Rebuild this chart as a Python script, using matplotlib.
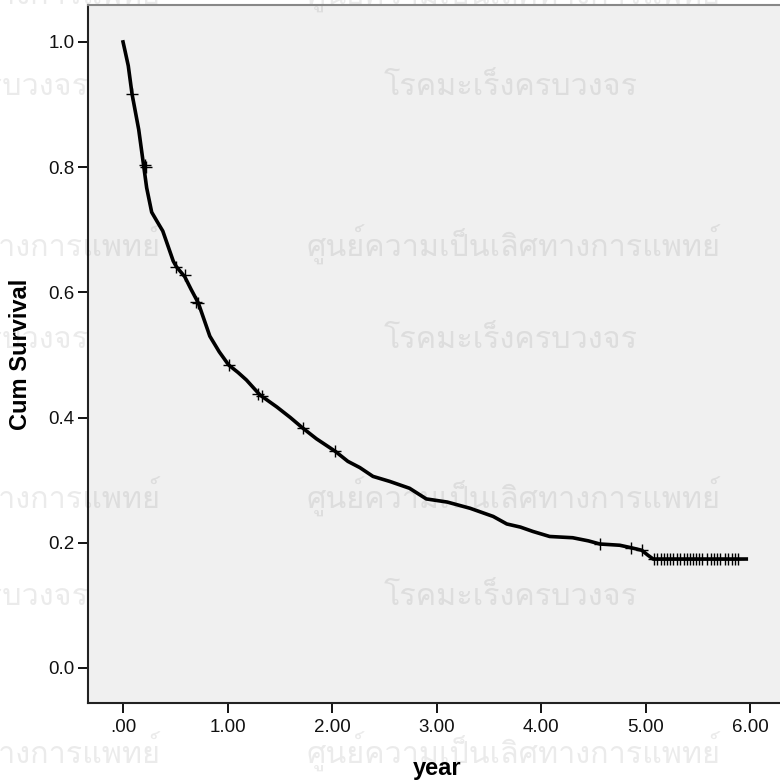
import matplotlib
matplotlib.use("Agg")
import matplotlib.pyplot as plt
from matplotlib import font_manager
from matplotlib.ft2font import FT2Font

# Kaplan-Meier curve
years = [0.00, 0.02, 0.05, 0.086, 0.15, 0.226, 0.274, 0.33, 0.38, 0.48, 0.51,
         0.59, 0.65, 0.72, 0.83, 0.92, 1.01, 1.10, 1.18, 1.31, 1.47, 1.60,
         1.72, 1.85, 2.03, 2.15, 2.265, 2.39, 2.55, 2.74, 2.90, 3.10, 3.32,
         3.54, 3.67, 3.80, 3.92, 4.08, 4.30, 4.45, 4.56, 4.75, 4.86, 4.96,
         5.02, 5.07, 5.96]
cum_survival = [1.000, 0.985, 0.962, 0.917, 0.860, 0.767, 0.728, 0.712, 0.698,
                0.650, 0.641, 0.625, 0.605, 0.583, 0.530, 0.505, 0.484, 0.472,
                0.460, 0.436, 0.417, 0.400, 0.383, 0.366, 0.346, 0.330, 0.320,
                0.306, 0.298, 0.287, 0.270, 0.265, 0.255, 0.242, 0.230, 0.225,
                0.218, 0.210, 0.208, 0.203, 0.198, 0.196, 0.192, 0.188, 0.180,
                0.174, 0.174]

# censored cases
censor_years = [0.086, 0.21, 0.22, 0.51, 0.59, 0.70, 0.72, 1.01, 1.29, 1.33,
                1.72, 2.03, 4.56, 4.86, 4.96,
                5.08, 5.11, 5.14, 5.17, 5.20, 5.23, 5.26, 5.30, 5.33, 5.36,
                5.39, 5.42, 5.45, 5.48, 5.51, 5.54, 5.58, 5.62, 5.65, 5.68,
                5.71, 5.76, 5.79, 5.82, 5.85, 5.88]
censor_surv = [0.917, 0.803, 0.800, 0.641, 0.628, 0.585, 0.583, 0.484, 0.438,
               0.435, 0.383, 0.346, 0.198, 0.192, 0.188] + [0.174] * 26

x_ticks = [0, 1, 2, 3, 4, 5, 6]
x_labels = [".00", "1.00", "2.00", "3.00", "4.00", "5.00", "6.00"]
y_ticks = [0.0, 0.2, 0.4, 0.6, 0.8, 1.0]
y_labels = ["0.0", "0.2", "0.4", "0.6", "0.8", "1.0"]

watermark1 = "ศูนย์ความเป็นเลิศทางการแพทย์"
watermark2 = "โรคมะเร็งครบวงจร"

plt.rcParams['font.family'] = ['Liberation Sans', 'DejaVu Sans']

fig = plt.figure(figsize=(7.8, 7.81), dpi=100)
W, H = 780.0, 781.0
ax = fig.add_axes([88 / W, (H - 703) / H, (786 - 88) / W, (703 - 5) / H])
ax.set_facecolor("#f0f0f0")

ax.plot(years, cum_survival, color="black", lw=2.6, solid_joinstyle="round",
        zorder=3)
ax.plot(censor_years, censor_surv, ls="none", marker="+", ms=9, mew=1.0,
        color="black", zorder=4)

ax.set_xlim(-0.335, 6.34)
ax.set_ylim(-0.056, 1.059)
ax.set_xticks(x_ticks)
ax.set_xticklabels(x_labels)
ax.set_yticks(y_ticks)
ax.set_yticklabels(y_labels)
ax.tick_params(direction="out", length=7.5, width=1.4, labelsize=13.5,
               colors="#111111", pad=2)
ax.tick_params(axis="x", pad=4)

for side in ["left", "bottom"]:
    ax.spines[side].set_color("#222222")
    ax.spines[side].set_linewidth(1.5)
ax.spines["top"].set_color("#888888")
ax.spines["top"].set_linewidth(1.5)
ax.spines["right"].set_visible(False)

ax.set_ylabel("Cum Survival", fontsize=17, fontweight="bold", va="center")
ax.yaxis.set_label_coords((21 - 88) / 698.0, 0.5)
ax.set_xlabel("year", fontsize=17, fontweight="bold", va="baseline")
ax.xaxis.set_label_coords(0.5, (703 - 775) / 698.0)

# watermark (only if a font with Thai glyphs is around), lightest weight
thai_fonts = []
for f in font_manager.fontManager.ttflist:
    try:
        if f.style == "normal" and 0x0E28 in FT2Font(f.fname).get_charmap():
            w = f.weight if isinstance(f.weight, int) else 400
            thai_fonts.append((abs(w - 350), f.fname))
    except Exception:
        pass
thai_fonts.sort()

if thai_fonts:
    fp = font_manager.FontProperties(fname=thai_fonts[0][1], size=22)
    for cy in [-7, 245, 497, 752]:
        for cx in [-46, 514]:
            fig.text(cx / W, 1 - cy / H, watermark1, fontproperties=fp,
                     color="black", alpha=0.08, ha="center", va="center")
    for cy in [87, 340, 597]:
        for cx in [-38, 511]:
            fig.text(cx / W, 1 - cy / H, watermark2, fontproperties=fp,
                     color="black", alpha=0.08, ha="center", va="center")

fig.savefig("out.png", dpi=100)
